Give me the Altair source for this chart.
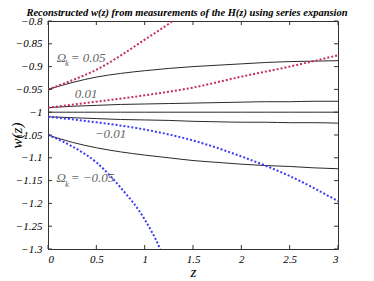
import altair as alt
import pandas as pd

# ---- data ----
Z_SOLID = [0, 0.25, 0.5, 0.75, 1, 1.25, 1.5, 1.75, 2, 2.25, 2.5, 2.75, 3]
W_SOLID_P005 = [-0.95, -0.935, -0.923, -0.915, -0.909, -0.904, -0.900, -0.897, -0.894, -0.891, -0.889, -0.888, -0.887]
W_SOLID_P001 = [-0.99, -0.987, -0.985, -0.983, -0.982, -0.981, -0.980, -0.979, -0.978, -0.977, -0.977, -0.976, -0.976]
W_SOLID_000 = [-1.0] * 13
W_SOLID_M001 = [-1.01, -1.012, -1.014, -1.016, -1.017, -1.018, -1.020, -1.021, -1.022, -1.022, -1.023, -1.023, -1.024]
W_SOLID_M005 = [-1.05, -1.066, -1.078, -1.087, -1.094, -1.100, -1.106, -1.110, -1.114, -1.117, -1.119, -1.122, -1.124]

Z_DOT_P005 = [0, 0.25, 0.5, 0.75, 1, 1.25, 1.4]
W_DOT_P005 = [-0.95, -0.93, -0.907, -0.876, -0.841, -0.806, -0.783]
Z_DOT = [0, 0.5, 1, 1.5, 2, 2.5, 3]
W_DOT_P001 = [-0.99, -0.977, -0.963, -0.946, -0.922, -0.900, -0.875]
W_DOT_M001 = [-1.01, -1.022, -1.038, -1.062, -1.097, -1.140, -1.195]
Z_DOT_M005 = [0, 0.25, 0.5, 0.75, 1, 1.15, 1.2]
W_DOT_M005 = [-1.05, -1.075, -1.11, -1.165, -1.235, -1.295, -1.32]

X_TICKS = [0, 0.5, 1, 1.5, 2, 2.5, 3]
Y_TICKS = [-1.3, -1.25, -1.2, -1.15, -1.1, -1.05, -1.0, -0.95, -0.9, -0.85, -0.8]

LABEL_TEXT = ["Ω", "= 0.05", "0.01", "−0.01", "Ω", "= −0.05"]
LABEL_Z = [0.09, 0.235, 0.276, 0.483, 0.088, 0.235]
LABEL_W = [-0.881, -0.881, -0.960, -1.048, -1.145, -1.145]
SUB_TEXT = ["k", "k"]
SUB_Z = [0.175, 0.175]
SUB_W = [-0.893, -1.157]

TITLE = "Reconstructed w(z) from measurements of the H(z) using series expansion"

# ---- tables ----
rows = []
def add(name, kind, zs, ws):
    for z, w in zip(zs, ws):
        rows.append({"series": name, "kind": kind, "z": z, "w": w})

add("s005", "solid", Z_SOLID, W_SOLID_P005)
add("s001", "solid", Z_SOLID, W_SOLID_P001)
add("s000", "solid", Z_SOLID, W_SOLID_000)
add("sm001", "solid", Z_SOLID, W_SOLID_M001)
add("sm005", "solid", Z_SOLID, W_SOLID_M005)
add("d005", "red", Z_DOT_P005, W_DOT_P005)
add("d001", "red", Z_DOT, W_DOT_P001)
add("dm001", "blue", Z_DOT, W_DOT_M001)
add("dm005", "blue", Z_DOT_M005, W_DOT_M005)
df = pd.DataFrame(rows)

xt = pd.DataFrame({"z": X_TICKS})
yt = pd.DataFrame({"w": Y_TICKS})
lab = pd.DataFrame({"text": LABEL_TEXT, "z": LABEL_Z, "w": LABEL_W})
sub = pd.DataFrame({"text": SUB_TEXT, "z": SUB_Z, "w": SUB_W})

FONT = "Liberation Serif"
W, H = 290, 228

X = alt.X("z:Q", scale=alt.Scale(domain=[0, 3], nice=False),
          axis=alt.Axis(values=X_TICKS, format="~g", title="z", ticks=False, domain=False, grid=False,
                        labelPadding=4, labelFont=FONT, labelFontStyle="italic", labelFontSize=11,
                        labelColor="#000", titleFont=FONT, titleFontStyle="italic", titleFontWeight="normal",
                        titleFontSize=15, titleColor="#000", titleY=27, titleBaseline="alphabetic"))
Y = alt.Y("w:Q", scale=alt.Scale(domain=[-1.3, -0.8], nice=False, zero=False),
          axis=alt.Axis(values=Y_TICKS, format=".2~f", title="w(z)", ticks=False, domain=False, grid=False,
                        labelPadding=6, labelFont=FONT, labelFontStyle="italic", labelFontSize=11,
                        labelColor="#000", titleFont=FONT, titleFontStyle="italic", titleFontWeight="normal",
                        titleFontSize=15, titleColor="#000", titleX=-24, titleY=H / 2, titleAngle=-90,
                        titleAlign="center", titleBaseline="bottom"))

base = alt.Chart(df)
solid = base.transform_filter(alt.datum.kind == "solid").mark_line(
    color="#2a2a2a", strokeWidth=1, clip=True, interpolate="monotone"
).encode(x=X, y=Y, detail="series:N")
red = base.transform_filter(alt.datum.kind == "red").mark_line(
    color="#c3305e", strokeWidth=2, strokeDash=[2, 2], clip=True, interpolate="monotone"
).encode(x=X, y=Y, detail="series:N")
blue = base.transform_filter(alt.datum.kind == "blue").mark_line(
    color="#3c3cf2", strokeWidth=2, strokeDash=[2, 2], clip=True, interpolate="monotone"
).encode(x=X, y=Y, detail="series:N")

TL = 4
tick_color = "#333"
bt = alt.Chart(xt).mark_rule(color=tick_color).encode(x=X, y=alt.value(H), y2=alt.value(H - TL))
tt = alt.Chart(xt).mark_rule(color=tick_color).encode(x=X, y=alt.value(0), y2=alt.value(TL))
lt = alt.Chart(yt).mark_rule(color=tick_color).encode(y=Y, x=alt.value(0), x2=alt.value(TL))
rt = alt.Chart(yt).mark_rule(color=tick_color).encode(y=Y, x=alt.value(W), x2=alt.value(W - TL))

labels = alt.Chart(lab).mark_text(font=FONT, fontStyle="italic", fontSize=13, color="#666",
                                  align="left", baseline="middle").encode(x=X, y=Y, text="text:N")
subs = alt.Chart(sub).mark_text(font=FONT, fontStyle="italic", fontSize=9, color="#666",
                                align="left", baseline="middle").encode(x=X, y=Y, text="text:N")

chart = alt.layer(solid, red, blue, bt, tt, lt, rt, labels, subs).properties(
    width=W, height=H,
    title=alt.Title(TITLE, font=FONT, fontSize=10.5, fontWeight="bold", fontStyle="italic",
                    anchor="middle", offset=2, baseline="alphabetic", dx=-6, dy=13, color="#000"),
    padding={"left": 40, "top": 13, "right": 20, "bottom": 30},
    autosize=alt.AutoSizeParams(type="none"),
).configure_view(stroke="#333", strokeWidth=1)

chart.save("out.html", embed_options={"renderer": "svg", "actions": False})
